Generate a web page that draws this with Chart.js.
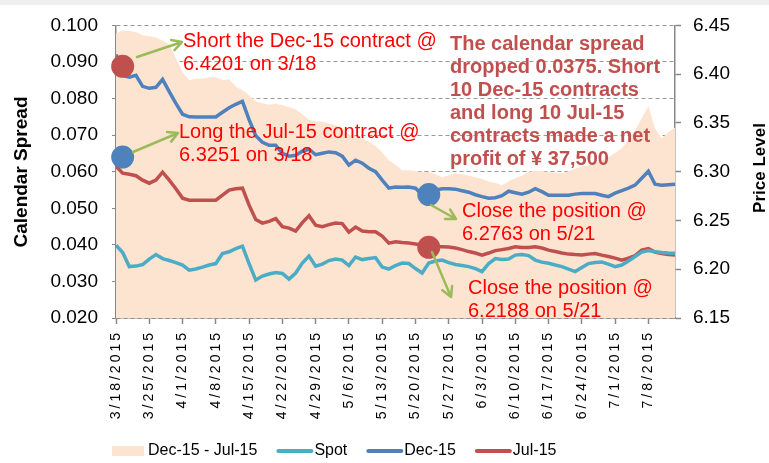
<!DOCTYPE html>
<html>
<head>
<meta charset="utf-8">
<script src="https://cdn.jsdelivr.net/npm/chart.js@4"></script>
<style>
  html, body { margin: 0; padding: 0; background: #fff; }
</style>
</head>
<body>
<canvas id="spreadChart" width="769" height="463"></canvas>
<script>
// ---------------- data ----------------
const dates = [
  "3/18/2015","3/19/2015","3/20/2015","3/23/2015","3/24/2015","3/25/2015","3/26/2015","3/27/2015","3/30/2015","3/31/2015",
  "4/1/2015","4/2/2015","4/3/2015","4/6/2015","4/7/2015","4/8/2015","4/9/2015","4/10/2015","4/13/2015","4/14/2015",
  "4/15/2015","4/16/2015","4/17/2015","4/20/2015","4/21/2015","4/22/2015","4/23/2015","4/24/2015","4/27/2015","4/28/2015",
  "4/29/2015","4/30/2015","5/1/2015","5/4/2015","5/5/2015","5/6/2015","5/7/2015","5/8/2015","5/11/2015","5/12/2015",
  "5/13/2015","5/14/2015","5/15/2015","5/18/2015","5/19/2015","5/20/2015","5/21/2015","5/22/2015","5/25/2015","5/26/2015",
  "5/27/2015","5/28/2015","5/29/2015","6/1/2015","6/2/2015","6/3/2015","6/4/2015","6/5/2015","6/8/2015","6/9/2015",
  "6/10/2015","6/11/2015","6/12/2015","6/15/2015","6/16/2015","6/17/2015","6/18/2015","6/19/2015","6/22/2015","6/23/2015",
  "6/24/2015","6/25/2015","6/26/2015","6/29/2015","6/30/2015","7/1/2015","7/2/2015","7/3/2015","7/6/2015","7/7/2015",
  "7/8/2015","7/9/2015","7/10/2015","7/13/2015","7/14/2015"
];

// Dec-15 - Jul-15 (left axis)
const spread = [
  0.0978,0.0986,0.0985,0.0982,0.0973,0.0970,0.0967,0.0959,0.0948,0.0910,
  0.0872,0.0850,0.0854,0.0855,0.0858,0.0858,0.0850,0.0853,0.0833,0.0823,
  0.0809,0.0792,0.0787,0.0783,0.0786,0.0782,0.0776,0.0771,0.0757,0.0742,
  0.0738,0.0737,0.0732,0.0727,0.0719,0.0702,0.0697,0.0691,0.0682,0.0670,
  0.0653,0.0631,0.0619,0.0604,0.0604,0.0601,0.0599,0.0599,0.0593,0.0585,
  0.0590,0.0595,0.0593,0.0589,0.0585,0.0580,0.0573,0.0569,0.0563,0.0574,
  0.0582,0.0589,0.0599,0.0603,0.0601,0.0599,0.0597,0.0596,0.0601,0.0608,
  0.0614,0.0618,0.0626,0.0631,0.0640,0.0651,0.0664,0.0686,0.0713,0.0746,
  0.0779,0.0719,0.0691,0.0708,0.0721
];

// price lines (right axis)
const spot = [
  6.2247,6.2171,6.2027,6.2032,6.2048,6.2104,6.2150,6.2109,6.2089,6.2068,
  6.2043,6.1991,6.2002,6.2022,6.2043,6.2058,6.2160,6.2179,6.2212,6.2237,
  6.2058,6.1889,6.1930,6.1951,6.1966,6.1956,6.1899,6.1961,6.2063,6.2135,
  6.2032,6.2053,6.2089,6.2104,6.2094,6.2038,6.2125,6.2099,6.2109,6.2119,
  6.2022,6.2002,6.2038,6.2063,6.2058,6.2007,6.1961,6.2063,6.2084,6.2094,
  6.2068,6.2048,6.2038,6.2027,6.2007,6.1976,6.2058,6.2109,6.2099,6.2104,
  6.2145,6.2150,6.2140,6.2094,6.2073,6.2061,6.2043,6.2027,6.2002,6.1976,
  6.2017,6.2058,6.2068,6.2073,6.2053,6.2027,6.2043,6.2084,6.2130,6.2176,
  6.2191,6.2179,6.2171,6.2166,6.2163
];

const dec15 = [
  6.4201,6.3988,6.3968,6.3988,6.3875,6.3855,6.3865,6.3947,6.3821,6.3701,
  6.3589,6.3563,6.3561,6.3561,6.3561,6.3561,6.3609,6.3655,6.3691,6.3722,
  6.3533,6.3369,6.3302,6.3271,6.3271,6.3189,6.3159,6.3169,6.3210,6.3230,
  6.3174,6.3189,6.3203,6.3195,6.3159,6.3067,6.3118,6.3087,6.3036,6.3000,
  6.2913,6.2831,6.2844,6.2841,6.2844,6.2831,6.2763,6.2790,6.2811,6.2826,
  6.2826,6.2821,6.2805,6.2790,6.2764,6.2744,6.2729,6.2734,6.2754,6.2800,
  6.2785,6.2770,6.2790,6.2826,6.2795,6.2759,6.2759,6.2759,6.2759,6.2770,
  6.2777,6.2777,6.2777,6.2759,6.2744,6.2780,6.2805,6.2831,6.2862,6.2933,
  6.3005,6.2872,6.2862,6.2867,6.2872
];

const jul15 = [
  6.3056,6.2985,6.2974,6.2959,6.2913,6.2882,6.2913,6.2995,6.2913,6.2826,
  6.2729,6.2708,6.2708,6.2708,6.2708,6.2708,6.2759,6.2811,6.2826,6.2831,
  6.2657,6.2509,6.2473,6.2490,6.2519,6.2437,6.2422,6.2391,6.2478,6.2549,
  6.2452,6.2437,6.2457,6.2473,6.2468,6.2381,6.2432,6.2391,6.2384,6.2384,
  6.2340,6.2268,6.2281,6.2273,6.2268,6.2258,6.2247,6.2237,6.2232,6.2230,
  6.2227,6.2217,6.2201,6.2181,6.2166,6.2145,6.2166,6.2191,6.2201,6.2212,
  6.2230,6.2222,6.2222,6.2230,6.2217,6.2196,6.2181,6.2166,6.2155,6.2150,
  6.2147,6.2155,6.2162,6.2145,6.2130,6.2114,6.2094,6.2114,6.2140,6.2196,
  6.2212,6.2176,6.2160,6.2150,6.2145
];

// trade markers as drawn in the picture
const markerDates  = ["3/19/2015", "3/19/2015", "5/22/2015", "5/22/2015"];
const markerPrices = [6.408, 6.315, 6.2765, 6.2225];
const markerColors = ["#c0504d", "#4f81bd", "#4f81bd", "#c0504d"];

const spreadTicks = [0.02, 0.03, 0.04, 0.05, 0.06, 0.07, 0.08, 0.09, 0.10];
const priceTicks  = [6.15, 6.20, 6.25, 6.30, 6.35, 6.40, 6.45];

// ---------------- colours / text ----------------
const PEACH = "#fde4d0";
const TEAL  = "#4bacc6";
const BLUE  = "#4f81bd";
const RED   = "#c0504d";
const GREEN = "#9bbb59";
const FONT  = '"Liberation Sans", Arial, sans-serif';

const notes = [
  { x: 183, y: 47,  color: "#ff0000", bold: false, lines: ["Short the Dec-15 contract @", "6.4201 on 3/18"] },
  { x: 179, y: 138, color: "#ff0000", bold: false, lines: ["Long the Jul-15 contract @", "6.3251 on 3/18"] },
  { x: 462, y: 217, color: "#ff0000", bold: false, lines: ["Close the position @", "6.2763 on 5/21"] },
  { x: 468, y: 294, color: "#ff0000", bold: false, lines: ["Close the position @", "6.2188 on 5/21"] },
  { x: 450, y: 50,  color: RED, bold: true, lines: [
      "The calendar spread", "dropped 0.0375. Short", "10 Dec-15 contracts",
      "and long 10 Jul-15", "contracts made a net", "profit of \u00a5 37,500"] }
];

const arrows = [
  [137, 57, 182, 42],
  [133, 152, 178, 133],
  [431, 205, 456, 219],
  [432, 252, 451, 297]
];

const pts = arr => arr.map((v, i) => ({ x: i, y: v }));

// ---------------- plugins ----------------
// light grey strip along the top edge, as in the screenshot
const backdrop = {
  id: "backdrop",
  beforeDraw(chart) {
    const ctx = chart.ctx;
    ctx.save();
    ctx.fillStyle = "#fff";
    ctx.fillRect(0, 0, chart.width, chart.height);
    ctx.fillStyle = "#efefef";
    ctx.fillRect(0, 0, chart.width, 5);
    ctx.restore();
  }
};

// wider letter spacing on the date labels
const spacedDates = {
  id: "spacedDates",
  beforeDraw(chart) {
    const xs = chart.scales.x;
    if (xs._spaced) return;
    const orig = xs.drawLabels.bind(xs);
    xs.drawLabels = function (area) {
      const c = this.ctx;
      c.save();
      c.letterSpacing = "3px";
      orig(area);
      c.restore();
    };
    xs._spaced = true;
  }
};

function arrow(ctx, x1, y1, x2, y2) {
  const a = Math.atan2(y2 - y1, x2 - x1);
  const h = 11;
  ctx.beginPath();
  ctx.moveTo(x1, y1);
  ctx.lineTo(x2, y2);
  ctx.moveTo(x2 - h * Math.cos(a - 0.5), y2 - h * Math.sin(a - 0.5));
  ctx.lineTo(x2, y2);
  ctx.lineTo(x2 - h * Math.cos(a + 0.5), y2 - h * Math.sin(a + 0.5));
  ctx.stroke();
}

const extras = {
  id: "extras",
  afterDraw(chart) {
    const ctx = chart.ctx;
    ctx.save();

    // axis titles, both read bottom-to-top
    [["Calendar Spread", 22, 172, 19], ["Price Level", 760, 168, 17]].forEach(([t, x, y, s]) => {
      ctx.save();
      ctx.translate(x, y);
      ctx.rotate(-Math.PI / 2);
      ctx.font = "bold " + s + "px " + FONT;
      ctx.fillStyle = "#000";
      ctx.textAlign = "center";
      ctx.textBaseline = "middle";
      ctx.fillText(t, 0, 0);
      ctx.restore();
    });

    // green arrows
    ctx.strokeStyle = GREEN;
    ctx.lineWidth = 2.5;
    ctx.lineCap = "round";
    ctx.lineJoin = "round";
    arrows.forEach(a => arrow(ctx, a[0], a[1], a[2], a[3]));

    // text notes
    ctx.textAlign = "left";
    ctx.textBaseline = "alphabetic";
    notes.forEach(n => {
      ctx.font = (n.bold ? "bold " : "") + "20px " + FONT;
      ctx.fillStyle = n.color;
      n.lines.forEach((l, i) => ctx.fillText(l, n.x, n.y + i * 23));
    });

    // legend
    let x = 112;
    const y = 451;
    ctx.font = "16px " + FONT;
    ctx.fillStyle = "#000";
    ctx.textBaseline = "middle";
    chart.data.datasets.filter(d => d.label).forEach(d => {
      if (d.fill) {
        ctx.fillStyle = d.backgroundColor;
        ctx.fillRect(x, y - 5, 32, 10);
        x += 36;
      } else {
        ctx.strokeStyle = d.borderColor;
        ctx.lineWidth = 4;
        ctx.lineCap = "round";
        ctx.beginPath();
        ctx.moveTo(x + 2, y);
        ctx.lineTo(x + 35, y);
        ctx.stroke();
        x += 38;
      }
      ctx.fillStyle = "#000";
      ctx.fillText(d.label, x, y);
      x += ctx.measureText(d.label).width + 19;
    });

    ctx.restore();
  }
};

// ---------------- chart ----------------
new Chart(document.getElementById("spreadChart"), {
  type: "line",
  data: {
    datasets: [
      {
        label: "Dec-15 - Jul-15",
        data: pts(spread),
        yAxisID: "y",
        fill: "start",
        backgroundColor: PEACH,
        borderWidth: 0,
        pointRadius: 0,
        order: 5
      },
      { label: "Spot",   data: pts(spot),  yAxisID: "y1", borderColor: TEAL, borderWidth: 3.5, pointRadius: 0, order: 2 },
      { label: "Dec-15", data: pts(dec15), yAxisID: "y1", borderColor: BLUE, borderWidth: 3.5, pointRadius: 0, order: 2 },
      { label: "Jul-15", data: pts(jul15), yAxisID: "y1", borderColor: RED,  borderWidth: 3.5, pointRadius: 0, order: 2 },
      {
        data: markerDates.map((d, i) => ({ x: dates.indexOf(d), y: markerPrices[i] })),
        yAxisID: "y1",
        showLine: false,
        pointRadius: 11.5,
        pointBorderWidth: 0,
        pointBackgroundColor: markerColors,
        clip: false,
        order: 0
      }
    ]
  },
  options: {
    responsive: false,
    animation: false,
    layout: { padding: { top: 25, bottom: 43, left: 0, right: 0 } },
    plugins: { legend: { display: false }, tooltip: { enabled: false } },
    scales: {
      x: {
        type: "linear",
        min: 0,
        max: dates.length - 1,
        afterBuildTicks: s => { s.ticks = dates.map((d, i) => ({ value: i })).filter(t => t.value % 5 === 0); },
        afterFit: s => { s.height = 102; },
        ticks: {
          autoSkip: false,
          minRotation: 90,
          maxRotation: 90,
          padding: 6,
          color: "#000",
          font: { family: FONT, size: 14 },
          callback: v => dates[v]
        },
        grid: { drawOnChartArea: false, tickLength: 6, tickColor: "#888", tickWidth: 1.5 },
        border: { color: "#888", width: 1.5 }
      },
      y: {
        position: "left",
        min: 0.02,
        max: 0.10,
        afterBuildTicks: s => { s.ticks = spreadTicks.map(v => ({ value: v })); },
        afterFit: s => { s.width = 116; },
        ticks: { padding: 14, color: "#000", font: { family: FONT, size: 19 }, callback: v => v.toFixed(3) },
        grid: { color: "#999", lineWidth: 1, tickLength: 4, tickColor: "#888", tickBorderDash: [] },
        border: { color: "#888", width: 1.5, dash: [4, 3] }
      },
      y1: {
        position: "right",
        min: 6.15,
        max: 6.45,
        afterBuildTicks: s => { s.ticks = priceTicks.map(v => ({ value: v })); },
        afterFit: s => { s.width = 94; },
        ticks: { padding: 12, color: "#000", font: { family: FONT, size: 19 }, callback: v => v.toFixed(2) },
        grid: { drawOnChartArea: false, tickLength: 6, tickColor: "#888", tickWidth: 1.5 },
        border: { color: "#888", width: 1.5 }
      }
    }
  },
  plugins: [backdrop, spacedDates, extras]
});
</script>
</body>
</html>
